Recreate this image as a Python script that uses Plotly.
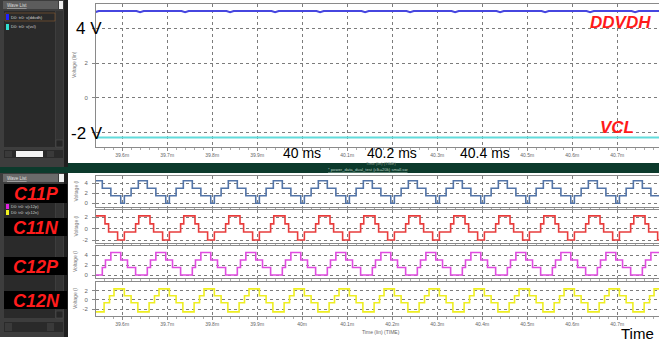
import plotly.graph_objects as go

W, H = 659, 343

# ---------------- data ----------------
cycle_starts = [39.5, 39.6, 39.7, 39.8, 39.9, 40.0, 40.1, 40.2, 40.3, 40.4, 40.5, 40.6, 40.7, 40.8]

ddvdh_phase = [0.000, 0.032, 0.040, 0.048]
ddvdh_level = [4.98, 4.98, 4.91, 4.98]
vcl_phase = [0.000, 0.050]
vcl_level = [-2.27, -2.26]

c11p_phase = [0.000, 0.005, 0.020, 0.036, 0.056, 0.075, 0.097]
c11p_level = [0.0, 1.5, 3.0, 4.5, 3.0, 1.5, 0.0]
c11n_phase = [0.000, 0.005, 0.030, 0.037, 0.062, 0.070, 0.090]
c11n_level = [-2.0, -0.6, 0.8, 2.2, 0.8, -0.6, -2.0]
c12p_phase = [0.000, 0.012, 0.030, 0.056, 0.063, 0.075, 0.097]
c12p_level = [3.0, 1.5, 0.0, 1.5, 3.0, 4.5, 3.0]
c12n_phase = [0.000, 0.005, 0.020, 0.035, 0.060, 0.072, 0.082]
c12n_level = [2.4, 0.9, -0.6, -2.6, -0.6, 0.9, 2.4]

time_ticks = [39.6, 39.7, 39.8, 39.9, 40.0, 40.1, 40.2, 40.3, 40.4, 40.5, 40.6, 40.7, 40.8]
time_tick_labels = ["39.6m", "39.7m", "39.8m", "39.9m", "40m", "40.1m", "40.2m",
                    "40.3m", "40.4m", "40.5m", "40.6m", "40.7m", "40.8m"]
# on the upper plot three of the labels sit under the "40 ms" call-outs
top_time_tick_labels = ["39.6m", "39.7m", "39.8m", "39.9m", "", "40.1m", "",
                        "40.3m", "", "40.5m", "40.6m", "40.7m", "40.8m"]

top_yticks = [-2, 0, 2, 4]
top_ytick_labels = ["", "0", "2", ""]
panel_names = ["C11P", "C11N", "C12P", "C12N"]
panel_yticks = [[0, 2, 4], [-2, 0, 2], [0, 2, 4], [-2, 0, 2]]

# ---------------- helpers ----------------
def tile(phases, levels):
    xs, ys = [], []
    for t0 in cycle_starts:
        for p, v in zip(phases, levels):
            xs.append(round(t0 + p, 4))
            ys.append(v)
    return xs, ys

def px(x):
    return x / W

def py(y):
    return 1 - y / H

FONT = "Liberation Sans, Arial, sans-serif"
XRANGE = [39.542, 40.793]
GRID = "#7c7c7c"

fig = go.Figure()

# top plot traces
x, y = tile(ddvdh_phase, ddvdh_level)
fig.add_trace(go.Scatter(x=x, y=y, mode="lines", line=dict(color="#4646e0", width=2),
                         xaxis="x", yaxis="y", showlegend=False))
x, y = tile(vcl_phase, vcl_level)
fig.add_trace(go.Scatter(x=x, y=y, mode="lines", line=dict(color="#62dcdc", width=2),
                         xaxis="x", yaxis="y", showlegend=False))

series = [(c11p_phase, c11p_level, "#5274a8"),
          (c11n_phase, c11n_level, "#e83c3c"),
          (c12p_phase, c12p_level, "#e04ce0"),
          (c12n_phase, c12n_level, "#eeee22")]
for i, (ph, lv, col) in enumerate(series):
    x, y = tile(ph, lv)
    fig.add_trace(go.Scatter(x=x, y=y, mode="lines", line=dict(color=col, width=1.6, shape="hv"),
                             xaxis="x%d" % (i + 2), yaxis="y%d" % (i + 2), showlegend=False))

# axes
def xaxis_common(domain, labels, anchor):
    show = labels is not None
    return dict(domain=domain, range=XRANGE, anchor=anchor,
                tickmode="array", tickvals=time_ticks,
                ticktext=labels if show else [""] * len(time_ticks),
                showticklabels=show,
                tickfont=dict(size=5, color="#666", family=FONT),
                ticks="outside", ticklen=3, tickcolor="#888",
                minor=dict(tickmode="linear", tick0=39.6, dtick=0.02, ticks="outside",
                           ticklen=2, tickcolor="#aaa", showgrid=False),
                showgrid=True, gridcolor=GRID, griddash="dot", gridwidth=1,
                showline=True, linecolor="#8a8a8a", linewidth=1, mirror=True,
                zeroline=False, fixedrange=True)

def yaxis_common(domain, rng, tickvals, ticktext, anchor):
    return dict(domain=domain, range=rng, anchor=anchor,
                tickmode="array", tickvals=tickvals, ticktext=ticktext,
                tickfont=dict(size=6, color="#666", family=FONT),
                ticks="outside", ticklen=3, tickcolor="#888", ticklabelstandoff=3,
                showgrid=True, gridcolor=GRID, griddash="dot", gridwidth=1,
                showline=True, linecolor="#8a8a8a", linewidth=1, mirror=True,
                zeroline=False, fixedrange=True)

XD = [px(96), 1.0]
layout = dict(
    width=W, height=H, autosize=False,
    margin=dict(l=0, r=0, t=0, b=0, pad=0),
    paper_bgcolor="white", plot_bgcolor="white",
    font=dict(family=FONT),
)
layout["xaxis"] = xaxis_common(XD, top_time_tick_labels, "y")
layout["yaxis"] = yaxis_common([py(147), py(4)], [-2.81, 5.38], top_yticks, top_ytick_labels, "x")

panel_px = [(176, 207), (210, 243), (246, 278), (282, 316)]
panel_ranges = [[-0.74, 5.44], [-2.52, 3.22], [-0.6, 5.8], [-3.5, 3.9]]
for i in range(4):
    top, bot = panel_px[i]
    layout["xaxis%d" % (i + 2)] = xaxis_common(XD, time_tick_labels if i == 3 else None, "y%d" % (i + 2))
    layout["yaxis%d" % (i + 2)] = yaxis_common([py(bot), py(top)], panel_ranges[i],
                                               panel_yticks[i], [str(v) for v in panel_yticks[i]],
                                               "x%d" % (i + 2))

shapes = []
annotations = []

def rect(x0, y0, x1, y1, fill, line=None, lw=0):
    shapes.append(dict(type="rect", xref="paper", yref="paper",
                       x0=px(x0), x1=px(x1), y0=py(y1), y1=py(y0),
                       fillcolor=fill, line=dict(color=line or fill, width=lw), layer="above"))

def text(x, y, s, size, color, xanchor="center", bold=False, italic=False, angle=0, family=FONT):
    t = s
    if bold:
        t = "<b>" + t + "</b>"
    if italic:
        t = "<i>" + t + "</i>"
    annotations.append(dict(x=px(x), y=py(y), xref="paper", yref="paper", text=t,
                            showarrow=False, xanchor=xanchor, yanchor="middle",
                            textangle=angle, borderpad=0,
                            font=dict(size=size, color=color, family=family)))

# ---- left panel (top) ----
rect(0, 0, 68, 167, "#3d3d3d")
rect(64, 0, 68, 167, "#1f1f1f")
rect(3, 1, 58, 9, "#5c5c5c")
rect(59, 1, 63, 9, "#eeeeee")
text(6, 5, "<u>Wave List</u>", 4.5, "#dddddd", xanchor="left")
rect(4, 11, 55, 147, "#2a2a2a")
rect(56, 11, 63, 147, "#333333")
rect(56, 140, 63, 147, "#262626", "#555", 0.5)
rect(5, 13, 55, 21, "#2a2a2a", "#8a5a30", 0.6)
rect(6, 14, 9, 20, "#2020ff")
text(10, 17, "D0: tr0: v(ddvdh)", 4.2, "#cfcfcf", xanchor="left")
rect(6, 24, 9, 30, "#30e0d0")
text(10, 27, "D0: tr0: v(vcl)", 4.2, "#cfcfcf", xanchor="left")
rect(4, 150, 63, 158, "#2a2a2a")
rect(16, 151, 43, 157, "#f4f4f4")
rect(5, 151, 12, 157, "#3a3a3a")
rect(47, 151, 54, 157, "#3a3a3a")

# ---- dark green separator bar ----
rect(68, 163, 659, 173, "#0c3a2c")
rect(0, 167, 68, 173, "#0c3a2c")
text(368, 169, "<u>* power_data_dual_test (clk=20k) small.sw</u>", 4.2, "#b8cfc0")

# ---- left panel (bottom) ----
rect(0, 173, 68, 337, "#3d3d3d")
rect(64, 173, 68, 337, "#1f1f1f")
rect(3, 174, 58, 182, "#6a6a6a")
rect(59, 174, 64, 182, "#f0f0f0")
text(6, 178, "<u>Wave List</u>", 4.5, "#e0e0e0", xanchor="left")
rect(4, 184, 55, 318, "#2a2a2a")
rect(56, 184, 63, 318, "#333333")
rect(56, 311, 63, 318, "#262626", "#555", 0.5)
rect(6, 204, 9, 209, "#e020e0")
text(10, 206.5, "D0: tr0: v(c12p)", 4, "#cfcfcf", xanchor="left")
rect(6, 210, 9, 215, "#f0f020")
text(10, 212.5, "D0: tr0: v(c12n)", 4, "#cfcfcf", xanchor="left")
rect(4, 322, 63, 332, "#2a2a2a")
rect(5, 323, 12, 331, "#3a3a3a")
rect(47, 323, 54, 331, "#3a3a3a")

label_boxes = [(184, 203), (218, 236), (257, 275), (291, 309)]
for name, (y0, y1) in zip(panel_names, label_boxes):
    rect(4, y0, 67, y1, "#000000")
    text(36, (y0 + y1) / 2 + 0.5, name, 18, "#ff1c1c", bold=True, italic=True)

# ---- axis titles / small labels ----
text(74, 65, "Voltage (lin)", 5, "#777", angle=-90)
for (top, bot) in panel_px:
    text(75, (top + bot) / 2, "Voltage (l", 5, "#777", angle=-90)
text(381, 163.5, "Time (lin) (TIME)", 4, "#8a9a90")
text(381, 332, "Time (lin) (TIME)", 5, "#666")

# ---- overlay annotations ----
text(89, 29, "4 V", 17, "#000000")
text(86.5, 133.5, "-2 V", 17, "#000000")
text(620, 22.5, "DDVDH", 17, "#ff1a1a", bold=True, italic=True)
text(617, 127.5, "VCL", 17, "#ff1a1a", bold=True, italic=True)
text(301.5, 152.5, "40 ms", 14, "#000000")
text(391.5, 152.5, "40.2 ms", 14, "#000000")
text(485, 152.5, "40.4 ms", 14, "#000000")
text(637, 333, "Time", 15, "#000000")

layout["shapes"] = shapes
layout["annotations"] = annotations
fig.update_layout(**layout)

fig.write_html("out.html", config={"displayModeBar": False, "staticPlot": True},
               post_script="document.body.style.margin='0';document.body.style.padding='0';"
                           "document.documentElement.style.overflow='hidden';")
